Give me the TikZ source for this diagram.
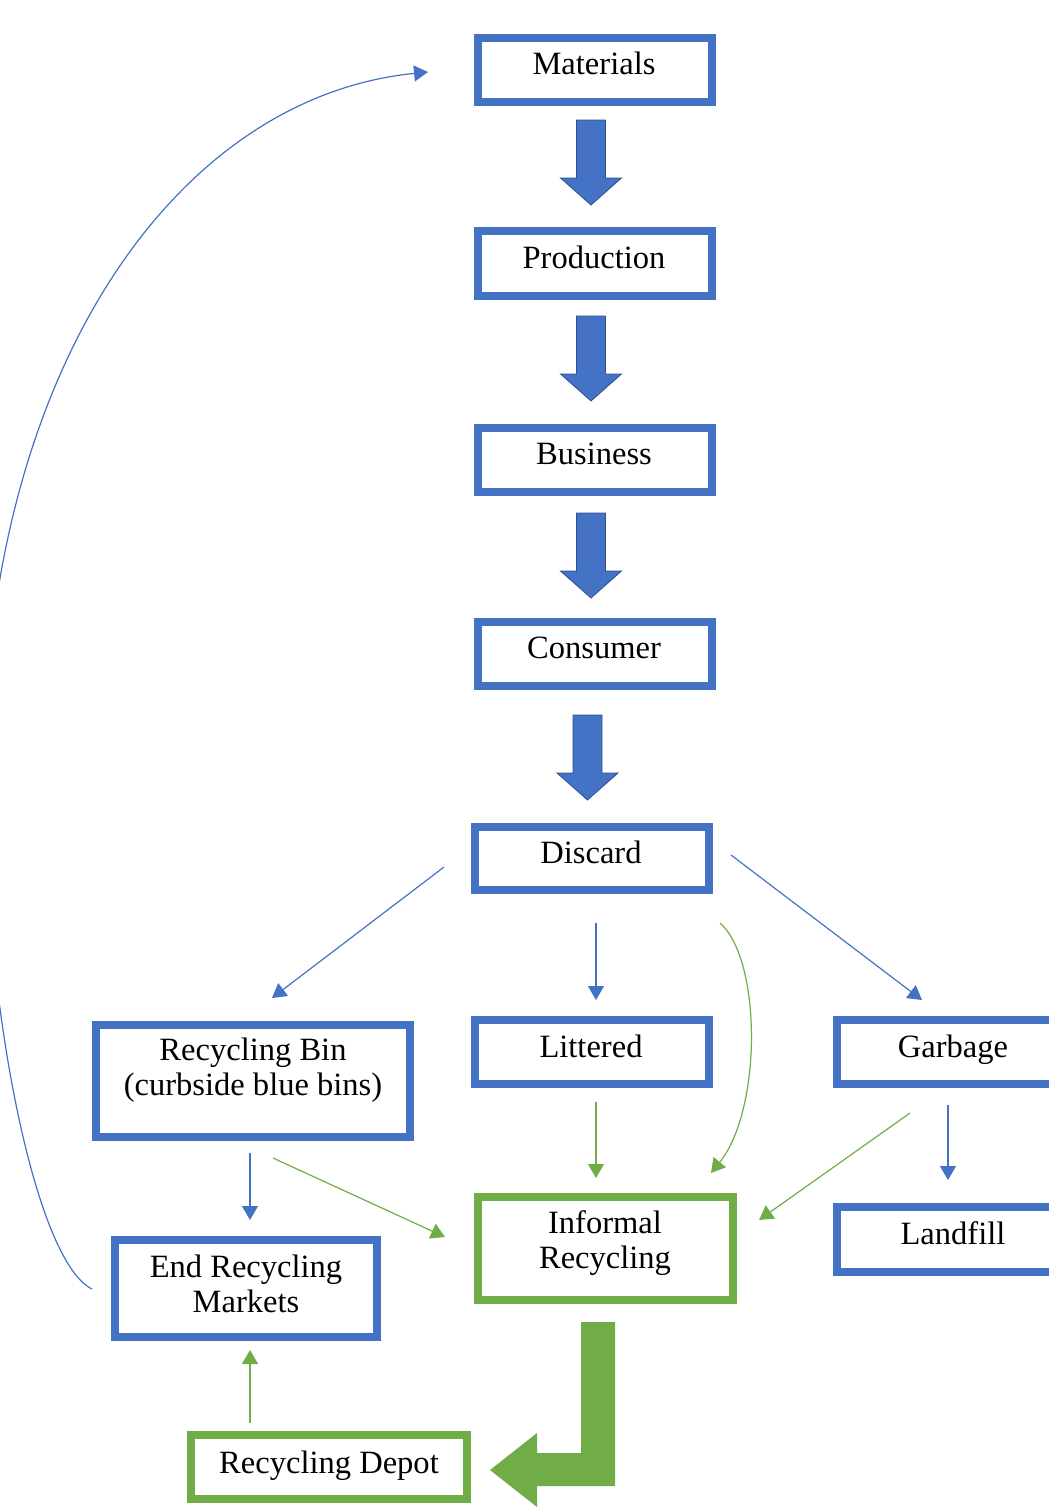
\documentclass[tikz,border=0pt]{standalone}
\usepackage{fontspec}
\setmainfont{Liberation Serif}
\usetikzlibrary{fit,arrows.meta}
\definecolor{ppblue}{HTML}{4472C4}
\definecolor{ppdark}{HTML}{2F528F}
\definecolor{ppgreen}{HTML}{70AD47}
\tikzset{
  bbox/.style={draw=ppblue, line width=5.6pt, inner sep=0pt, outer sep=0pt},
  gbox/.style={draw=ppgreen, line width=5.6pt, inner sep=0pt, outer sep=0pt},
  txt/.style={inner sep=0pt, font=\fontsize{24.4}{26.25}\selectfont, align=center},
  bcon/.style={draw=ppblue, line width=0.9pt, -{Triangle[length=10.5pt,width=12pt]}},
  gcon/.style={draw=ppgreen, line width=0.9pt, -{Triangle[length=10.5pt,width=12pt]}},
  barrow/.style={fill=ppblue, draw=ppdark, line width=0.6pt, line join=miter},
  downarrow/.pic={\path[barrow] (-14.5,0) -- (14.5,0) -- (14.5,58) -- (30.5,58) -- (0,85) -- (-30.5,58) -- (-14.5,58) -- cycle;}
}
\begin{document}
\begin{tikzpicture}[x=0.75pt,y=-0.75pt]
\useasboundingbox (0,0) rectangle (1049,1507);
\clip (0,0) rectangle (1049,1507);

% boxes
\node[bbox, fit={(478,38) (712,102)}] (mat) {};
\node[bbox, fit={(478,231) (712,296)}] (prod) {};
\node[bbox, fit={(478,428) (712,492)}] (bus) {};
\node[bbox, fit={(478,622) (712,686)}] (cons) {};
\node[bbox, fit={(475,827) (709,890)}] (disc) {};
\node[bbox, fit={(96,1025) (410,1137)}] (bin) {};
\node[bbox, fit={(475,1020) (709,1084)}] (lit) {};
\node[bbox, fit={(837,1020) (1071,1084)}] (garb) {};
\node[gbox, fit={(478,1197) (733,1300)}] (inf) {};
\node[bbox, fit={(837,1207) (1071,1272)}] (land) {};
\node[bbox, fit={(115,1240) (377,1337)}] (endm) {};
\node[gbox, fit={(191,1435) (467,1499)}] (depot) {};

% texts
\node[txt, anchor=base] (matT) at (594,74) {Materials};
\node[txt, anchor=base] (prodT) at (594,268) {Production};
\node[txt, anchor=base] (busT) at (594,464) {Business};
\node[txt, anchor=base] (consT) at (594,658) {Consumer};
\node[txt, anchor=base] (discT) at (591,863) {Discard};
\node[txt] (binT) at (253,1070) {Recycling Bin\\(curbside blue bins)};
\node[txt, anchor=base] (litT) at (591,1057) {Littered};
\node[txt, anchor=base] (garbT) at (953,1057) {Garbage};
\node[txt] (infT) at (605,1243) {Informal\\Recycling};
\node[txt, anchor=base] (landT) at (953,1244) {Landfill};
\node[txt] (endT) at (246,1284) {End Recycling\\Markets};
\node[txt, anchor=base] (depotT) at (329,1473) {Recycling Depot};

% block arrows
\pic (a1) at (591,120) {downarrow};
\pic (a2) at (591,316) {downarrow};
\pic (a3) at (591,513) {downarrow};
\pic (a4) at (587.5,715) {downarrow};

% green bent arrow
\fill[ppgreen] (581,1322) -- (615,1322) -- (615,1486) -- (537,1486) -- (537,1507) -- (490,1470) -- (537,1433) -- (537,1453) -- (581,1453) -- cycle;

% connector end points
\coordinate (dbS) at (444,867);  \coordinate (dbE) at (272,998);
\coordinate (dlS) at (596,923);  \coordinate (dlE) at (596,1000);
\coordinate (dgS) at (731,855);  \coordinate (dgE) at (922,1000);
\coordinate (diS) at (720,923);  \coordinate (diE) at (711,1173);
\coordinate (liS) at (596,1102); \coordinate (liE) at (596,1178);
\coordinate (giS) at (910,1113); \coordinate (giE) at (759,1220);
\coordinate (glS) at (948,1105); \coordinate (glE) at (948,1180);
\coordinate (beS) at (250,1153); \coordinate (beE) at (250,1220);
\coordinate (biS) at (273,1158); \coordinate (biE) at (445,1237);
\coordinate (reS) at (250,1423); \coordinate (reE) at (250,1350);
\coordinate (emS) at (92,1289);  \coordinate (emM) at (-16,770); \coordinate (emE) at (428,72);

\draw[bcon] (dbS) -- (dbE);
\draw[bcon] (dlS) -- (dlE);
\draw[bcon] (dgS) -- (dgE);
\draw[gcon] (diS) .. controls (762,960) and (762,1110) .. (diE);
\draw[gcon] (liS) -- (liE);
\draw[gcon] (giS) -- (giE);
\draw[bcon] (glS) -- (glE);
\draw[bcon] (beS) -- (beE);
\draw[gcon] (biS) -- (biE);
\draw[gcon] (reS) -- (reE);
\draw[bcon] (emS) .. controls (36,1262) and (-16,1010) .. (emM) .. controls (-16,380) and (170,98) .. (emE);
\end{tikzpicture}
\end{document}
